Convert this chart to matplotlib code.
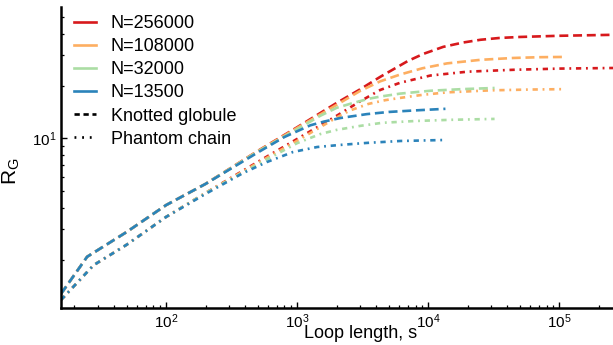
import matplotlib
matplotlib.use('Agg')
import matplotlib.pyplot as plt
from matplotlib.lines import Line2D
from matplotlib.ticker import LogLocator, NullFormatter

plt.rcParams['font.family'] = ['Liberation Sans', 'DejaVu Sans']
plt.rcParams['mathtext.fontset'] = 'custom'
plt.rcParams['mathtext.rm'] = 'Liberation Sans'
plt.rcParams['mathtext.it'] = 'Liberation Sans:italic'
plt.rcParams['mathtext.default'] = 'regular'

labels = ['N=256000', 'N=108000', 'N=32000', 'N=13500']
colors = ['#d7191c', '#fdae61', '#abdda4', '#2b83ba']

# knotted globule (dashed)
s_knot_256 = [15.8, 25, 50, 100, 200, 500, 1000, 2000, 3000, 4300, 7000, 9150, 13000, 18500,
              25000, 35000, 50000, 100000, 256000]
rg_knot_256 = [1.28, 2.09, 2.9, 4.14, 5.48, 8.47, 11.6, 16.0, 19.1, 22.6, 27.9, 30.6, 33.6, 35.6,
               36.9, 37.8, 38.3, 38.9, 39.4]
s_knot_108 = [15.8, 25, 50, 100, 200, 500, 1000, 2000, 3000, 4300, 6100, 9000, 13900, 25000,
              44300, 70000, 108000]
rg_knot_108 = [1.28, 2.09, 2.9, 4.14, 5.48, 8.45, 11.5, 15.6, 18.7, 21.3, 23.3, 25.3, 27.0, 28.3,
               29.0, 29.3, 29.4]
s_knot_32 = [15.8, 25, 50, 100, 200, 500, 1000, 1500, 2000, 2600, 3500, 4300, 6100, 10400,
             18000, 32000]
rg_knot_32 = [1.28, 2.09, 2.9, 4.14, 5.48, 8.4, 11.3, 13.5, 15.0, 15.9, 16.9, 17.4, 18.1, 18.8,
              19.2, 19.5]
s_knot_13 = [15.8, 25, 50, 100, 200, 500, 800, 1000, 1260, 1600, 2130, 3400, 5000, 8000, 13500]
rg_knot_13 = [1.28, 2.09, 2.9, 4.14, 5.48, 8.3, 10.2, 11.0, 11.9, 12.5, 13.1, 13.8, 14.2, 14.5,
              14.8]

# phantom chain (dash-dot)
s_phan_256 = [15.8, 28, 50, 100, 200, 500, 1000, 2000, 3000, 4300, 6100, 10400, 20000, 44300,
              100000, 256000]
rg_phan_256 = [1.18, 1.87, 2.45, 3.54, 4.86, 7.33, 9.94, 13.5, 16.3, 19.0, 20.9, 23.0, 24.2, 24.8,
               25.2, 25.4]
s_phan_108 = [15.8, 28, 50, 100, 200, 500, 1000, 2000, 2540, 3500, 4700, 6100, 9000, 13900,
              30000, 60000, 108000]
rg_phan_108 = [1.18, 1.87, 2.45, 3.54, 4.86, 7.24, 9.7, 13.2, 14.5, 15.8, 16.6, 17.1, 17.8, 18.4,
               18.9, 19.1, 19.2]
s_phan_32 = [15.8, 28, 50, 100, 200, 500, 1000, 1500, 2000, 3000, 4450, 8000, 15000, 32000]
rg_phan_32 = [1.18, 1.87, 2.45, 3.54, 4.86, 7.1, 9.4, 10.6, 11.2, 11.8, 12.3, 12.6, 12.8, 12.95]
s_phan_13 = [15.8, 28, 50, 100, 200, 387, 590, 930, 1420, 2130, 3420, 6100, 13500]
rg_phan_13 = [1.18, 1.87, 2.45, 3.54, 4.8, 6.33, 7.33, 8.36, 8.93, 9.18, 9.43, 9.67, 9.8]

knot = [(s_knot_256, rg_knot_256), (s_knot_108, rg_knot_108),
        (s_knot_32, rg_knot_32), (s_knot_13, rg_knot_13)]
phan = [(s_phan_256, rg_phan_256), (s_phan_108, rg_phan_108),
        (s_phan_32, rg_phan_32), (s_phan_13, rg_phan_13)]

lw = 1.9
dash = (0, (3.4, 1.8))
dashdot = (0, (2.0, 1.8, 0.7, 1.8))

fig = plt.figure(figsize=(6.13, 3.45), dpi=100)
ax = fig.add_axes([0.0995, 0.107, 0.9005, 0.873])

for i in range(4):
    ax.plot(knot[i][0], knot[i][1], color=colors[i], lw=lw, linestyle=dash)
    ax.plot(phan[i][0], phan[i][1], color=colors[i], lw=lw, linestyle=dashdot)

ax.set_xscale('log')
ax.set_yscale('log')
ax.set_xlim(15.8, 256000)
ax.set_ylim(1.06, 57)

for side in ['top', 'right']:
    ax.spines[side].set_visible(False)
for side in ['left', 'bottom']:
    ax.spines[side].set_linewidth(1.8)

ax.xaxis.set_minor_locator(LogLocator(base=10, subs=range(2, 10), numticks=20))
ax.yaxis.set_minor_locator(LogLocator(base=10, subs=range(2, 10), numticks=20))
ax.yaxis.set_minor_formatter(NullFormatter())
ax.xaxis.set_minor_formatter(NullFormatter())
ax.tick_params(which='major', direction='in', length=4.5, width=1.0, labelsize=11, pad=3)
ax.tick_params(which='minor', direction='in', length=2.5, width=0.9)

ax.set_xlabel('Loop length, s', fontsize=13)
ax.xaxis.set_label_coords(0.542, -0.055)
ax.set_ylabel(r'R$_\mathrm{G}$', fontsize=15)
ax.yaxis.set_label_coords(-0.07, 0.455)

handles = [Line2D([], [], color=c, lw=lw) for c in colors]
handles.append(Line2D([], [], color='black', lw=lw, linestyle=(0, (2.0, 1.4))))
handles.append(Line2D([], [], color='black', lw=lw, linestyle=(0, (0.7, 2.2))))
ax.legend(handles, labels + ['Knotted globule', 'Phantom chain'], loc='upper left',
          bbox_to_anchor=(0.0, 1.015), frameon=False, fontsize=13, handlelength=1.25,
          handletextpad=0.8, labelspacing=0.34, borderaxespad=0.3)

fig.savefig('out.png', dpi=100)
